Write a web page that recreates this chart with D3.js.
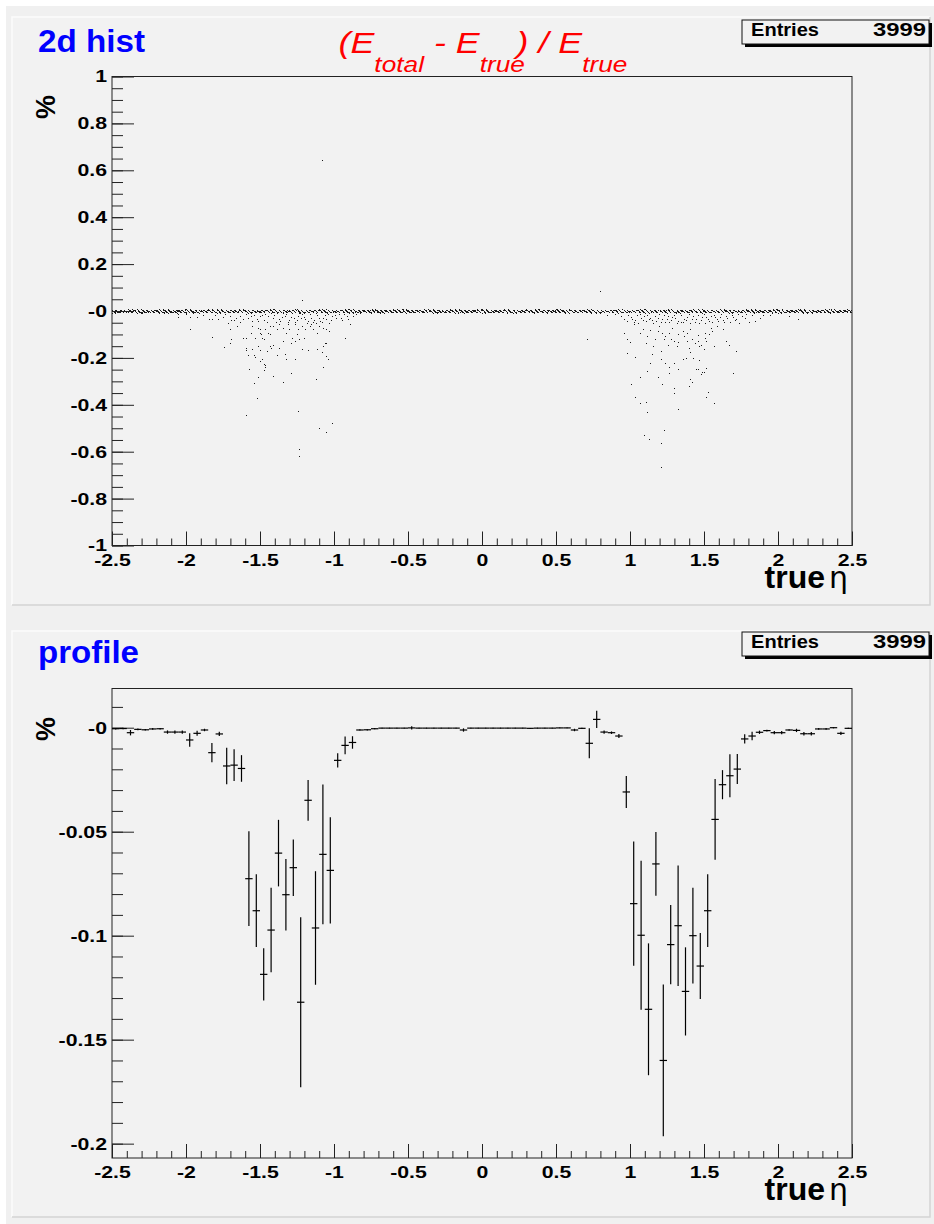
<!DOCTYPE html>
<html>
<head>
<meta charset="utf-8">
<script src="https://cdn.jsdelivr.net/npm/d3@7"></script>
<style>
  body { margin: 0; background: #fff; }
  svg { display: block; }
  text { font-family: "Liberation Sans", Arial, Helvetica, sans-serif; }
</style>
</head>
<body>
<script>
// ---- data ----
const entries = 3999;

// x axis (true eta)
const xTickValues = [-2.5, -2, -1.5, -1, -0.5, 0, 0.5, 1, 1.5, 2, 2.5];
const xTickLabels = ['-2.5', '-2', '-1.5', '-1', '-0.5', '0', '0.5', '1', '1.5', '2', '2.5'];

// y axis of the 2d hist
const histYTicks = [1, 0.8, 0.6, 0.4, 0.2, 0, -0.2, -0.4, -0.6, -0.8, -1];
const histYLabels = ['1', '0.8', '0.6', '0.4', '0.2', '-0', '-0.2', '-0.4', '-0.6', '-0.8', '-1'];

// y axis of the profile
const profYTicks = [0, -0.05, -0.1, -0.15, -0.2];
const profYLabels = ['-0', '-0.05', '-0.1', '-0.15', '-0.2'];

// profile: 100 bins of 0.05 in eta, from -2.5 to 2.5
const profileMean = [
  -0.0005, -0.0004, -0.0024, -0.0008, -0.0010, -0.0006, -0.0005, -0.0021, -0.0021, -0.0021,
  -0.0059, -0.0027, -0.0011, -0.0120, -0.0030, -0.0184, -0.0180, -0.0196, -0.0726, -0.0880,
  -0.1186, -0.0973, -0.0603, -0.0803, -0.0673, -0.1320, -0.0349, -0.0963, -0.0609, -0.0686,
  -0.0157, -0.0085, -0.0071, -0.0011, -0.0010, -0.0005, -0.0002, -0.0002, -0.0002, -0.0002,
  -0.0001, -0.0002, -0.0002, -0.0002, -0.0002, -0.0002, -0.0002, -0.0011, -0.0002, -0.0002,
  -0.0002, -0.0002, -0.0002, -0.0002, -0.0002, -0.0002, -0.0003, -0.0002, -0.0002, -0.0002,
  -0.0001, -0.0001, -0.0011, -0.0003, -0.0075, 0.0040, -0.0021, -0.0024, -0.0040, -0.0309,
  -0.0846, -0.0998, -0.1354, -0.0655, -0.1600, -0.1043, -0.0952, -0.1268, -0.1000, -0.1146,
  -0.0880, -0.0441, -0.0274, -0.0231, -0.0199, -0.0054, -0.0040, -0.0022, -0.0014, -0.0024,
  -0.0024, -0.0011, -0.0013, -0.0029, -0.0029, -0.0006, -0.0006, 0.0000, -0.0027, -0.0003
];
const profileErr = [
  0.0004, 0.0004, 0.0013, 0.0004, 0.0004, 0.0004, 0.0004, 0.0008, 0.0008, 0.0008,
  0.0032, 0.0012, 0.0006, 0.0046, 0.0010, 0.0088, 0.0076, 0.0064, 0.0228, 0.0175,
  0.0126, 0.0203, 0.0160, 0.0172, 0.0136, 0.0409, 0.0098, 0.0273, 0.0336, 0.0256,
  0.0034, 0.0043, 0.0030, 0.0003, 0.0003, 0.0003, 0.0002, 0.0002, 0.0002, 0.0002,
  0.0008, 0.0002, 0.0002, 0.0002, 0.0002, 0.0002, 0.0002, 0.0008, 0.0002, 0.0002,
  0.0002, 0.0002, 0.0002, 0.0002, 0.0002, 0.0002, 0.0002, 0.0002, 0.0002, 0.0002,
  0.0002, 0.0002, 0.0006, 0.0003, 0.0072, 0.0042, 0.0008, 0.0006, 0.0010, 0.0077,
  0.0299, 0.0358, 0.0317, 0.0153, 0.0365, 0.0190, 0.0290, 0.0212, 0.0230, 0.0159,
  0.0175, 0.0194, 0.0070, 0.0103, 0.0072, 0.0022, 0.0020, 0.0008, 0.0004, 0.0008,
  0.0008, 0.0004, 0.0008, 0.0008, 0.0008, 0.0004, 0.0004, 0.0003, 0.0008, 0.0003
];

// 2d hist: dots drawn in the core cell around zero, per 0.05 eta bin
const bandLow = -0.009, bandHigh = 0.005;
const bandCounts = [
  20, 21, 20, 20, 21, 20, 20, 21, 20, 20,
  20, 19, 18, 17, 16, 15, 14, 13, 12, 12,
  12, 12, 12, 12, 12, 12, 12, 13, 13, 14,
  15, 17, 18, 19, 20, 20, 20, 20, 20, 20,
  20, 20, 20, 20, 20, 20, 20, 20, 20, 20,
  20, 20, 20, 20, 20, 20, 20, 20, 20, 20,
  20, 20, 19, 18, 17, 15, 14, 13, 13, 12,
  12, 12, 12, 12, 12, 12, 12, 12, 12, 12,
  13, 13, 14, 15, 16, 18, 19, 20, 20, 21,
  20, 20, 21, 20, 20, 21, 20, 20, 20, 20
];

// 2d hist: the scattered entries away from zero [eta, value]
const scatterPoints = [
  // left tail, near zero
  [-2.06, -0.010], [-2.05, -0.028], [-1.97, -0.027], [-1.92, -0.028], [-1.84, -0.035], [-1.82, -0.035],
  [-1.78, -0.035], [-1.75, -0.028], [-1.71, -0.052], [-1.69, -0.041], [-1.67, -0.041], [-1.65, -0.064],
  [-1.63, -0.024], [-1.63, -0.050], [-1.59, -0.014], [-1.56, -0.024], [-1.55, -0.045], [-1.52, -0.035],
  [-1.50, -0.024], [-1.48, -0.021], [-1.46, -0.014], [-1.44, -0.024], [-1.42, -0.010], [-1.39, -0.050],
  [-1.38, -0.010], [-1.37, -0.035], [-1.34, -0.010], [-1.33, -0.024], [-1.31, -0.050], [-1.29, -0.027],
  [-1.28, -0.010], [-1.26, -0.050], [-1.24, -0.024], [-1.22, -0.031], [-1.21, -0.017], [-1.19, -0.038],
  [-1.17, -0.045], [-1.16, -0.017], [-1.14, -0.050], [-1.12, -0.010], [-1.10, -0.031], [-1.08, -0.050],
  [-1.06, -0.021], [-1.05, -0.038], [-1.03, -0.052], [-1.01, -0.024], [-0.98, -0.031], [-0.96, -0.017],
  [-0.94, -0.041], [-0.91, -0.024], [-0.89, -0.059], [-0.87, -0.024], [-2.05, -0.017],
  [-2.00, -0.015], [-1.95, -0.012], [-1.88, -0.020], [-1.80, -0.018], [-1.73, -0.014], [-1.70, -0.022],
  [-1.66, -0.030], [-1.61, -0.036], [-1.58, -0.030], [-1.54, -0.018], [-1.51, -0.045], [-1.47, -0.040],
  [-1.45, -0.048], [-1.41, -0.032], [-1.40, -0.018], [-1.36, -0.045], [-1.35, -0.028], [-1.32, -0.016],
  [-1.30, -0.040], [-1.27, -0.033], [-1.25, -0.042], [-1.23, -0.012], [-1.20, -0.028], [-1.18, -0.052],
  [-1.15, -0.030], [-1.13, -0.040], [-1.11, -0.020], [-1.09, -0.045], [-1.07, -0.030], [-1.04, -0.015],
  [-1.02, -0.040], [-0.99, -0.020], [-0.95, -0.030], [-0.93, -0.015], [-0.90, -0.035], [-0.85, -0.015],
  [-0.82, -0.012],
  // left tail, deeper
  [-1.97, -0.078], [-1.82, -0.113], [-1.70, -0.081], [-1.69, -0.123], [-1.70, -0.140], [-1.74, -0.156],
  [-1.61, -0.116], [-1.59, -0.116], [-1.56, -0.095], [-1.55, -0.067], [-1.53, -0.116], [-1.51, -0.074],
  [-1.50, -0.095], [-1.50, -0.081], [-1.49, -0.102], [-1.48, -0.116], [-1.47, -0.123], [-1.46, -0.081],
  [-1.44, -0.095], [-1.43, -0.064], [-1.43, -0.102], [-1.41, -0.067], [-1.38, -0.081], [-1.37, -0.059],
  [-1.34, -0.074], [-1.34, -0.130], [-1.32, -0.095], [-1.31, -0.059], [-1.30, -0.081], [-1.28, -0.116],
  [-1.26, -0.059], [-1.26, -0.130], [-1.25, -0.102], [-1.24, -0.081], [-1.23, -0.123], [-1.21, -0.067],
  [-1.20, -0.116], [-1.19, -0.081], [-1.16, -0.067], [-1.15, -0.059], [-1.14, -0.081], [-1.12, -0.052],
  [-1.11, -0.095], [-1.10, -0.067], [-1.07, -0.074], [-1.05, -0.081], [-1.05, -0.137], [-1.03, -0.088],
  [-0.92, -0.116],
  [-1.59, -0.159], [-1.59, -0.169], [-1.58, -0.191], [-1.55, -0.166], [-1.54, -0.191], [-1.53, -0.197],
  [-1.51, -0.152], [-1.50, -0.169], [-1.50, -0.215], [-1.48, -0.208], [-1.47, -0.230], [-1.46, -0.234],
  [-1.46, -0.240], [-1.45, -0.173], [-1.43, -0.152], [-1.42, -0.159], [-1.41, -0.149], [-1.38, -0.191],
  [-1.37, -0.159], [-1.33, -0.187], [-1.32, -0.208], [-1.29, -0.137], [-1.26, -0.205], [-1.21, -0.166],
  [-1.17, -0.169], [-1.11, -0.166], [-1.08, -0.177], [-1.07, -0.152], [-1.06, -0.137], [-1.05, -0.194],
  [-1.04, -0.205], [-1.07, -0.240],
  [-1.57, -0.248], [-1.47, -0.254], [-1.51, -0.283], [-1.54, -0.308], [-1.41, -0.279], [-1.34, -0.305],
  [-1.29, -0.265], [-1.12, -0.293], [-1.52, -0.374], [-1.59, -0.447], [-1.24, -0.430], [-1.01, -0.478],
  [-1.10, -0.500], [-1.05, -0.517], [-1.23, -0.591], [-1.23, -0.620],
  [-1.21, 0.044], [-1.08, 0.643],
  // right tail, near zero
  [0.85, -0.021], [0.96, -0.035], [0.98, -0.045], [1.01, -0.027], [1.03, -0.050], [1.05, -0.021],
  [1.06, -0.052], [1.08, -0.031], [1.10, -0.024], [1.11, -0.045], [1.13, -0.035], [1.15, -0.041],
  [1.16, -0.052], [1.17, -0.024], [1.19, -0.031], [1.21, -0.050], [1.23, -0.021], [1.25, -0.038],
  [1.27, -0.050], [1.29, -0.027], [1.30, -0.021], [1.32, -0.052], [1.34, -0.010], [1.36, -0.050],
  [1.37, -0.035], [1.39, -0.027], [1.41, -0.052], [1.43, -0.024], [1.45, -0.035], [1.47, -0.052],
  [1.49, -0.027], [1.51, -0.052], [1.53, -0.035], [1.55, -0.024], [1.56, -0.050], [1.58, -0.027],
  [1.60, -0.045], [1.61, -0.027], [1.63, -0.041], [1.65, -0.024], [1.68, -0.050], [1.70, -0.027],
  [1.72, -0.035], [1.74, -0.052], [1.78, -0.031], [1.81, -0.050], [1.85, -0.045], [1.90, -0.020],
  [1.95, -0.020], [2.08, -0.025], [2.14, -0.035],
  [0.90, -0.015], [0.94, -0.025], [0.99, -0.018], [1.02, -0.035], [1.04, -0.040], [1.07, -0.015],
  [1.09, -0.042], [1.12, -0.018], [1.14, -0.030], [1.18, -0.045], [1.20, -0.015], [1.22, -0.035],
  [1.24, -0.048], [1.26, -0.022], [1.28, -0.040], [1.31, -0.030], [1.33, -0.045], [1.35, -0.020],
  [1.38, -0.042], [1.40, -0.015], [1.42, -0.038], [1.44, -0.048], [1.46, -0.020], [1.48, -0.040],
  [1.50, -0.015], [1.52, -0.028], [1.54, -0.045], [1.57, -0.018], [1.59, -0.035], [1.62, -0.015],
  [1.64, -0.048], [1.66, -0.030], [1.69, -0.018], [1.71, -0.040], [1.73, -0.015], [1.76, -0.025],
  [1.79, -0.015], [1.83, -0.020], [1.88, -0.030],
  // right tail, deeper
  [0.96, -0.095], [0.98, -0.120], [1.00, -0.135], [1.03, -0.059], [1.07, -0.095], [1.09, -0.081],
  [1.11, -0.137], [1.12, -0.109], [1.14, -0.084], [1.16, -0.152], [1.17, -0.120], [1.19, -0.088],
  [1.20, -0.067], [1.22, -0.095], [1.23, -0.123], [1.24, -0.109], [1.26, -0.145], [1.27, -0.095],
  [1.28, -0.120], [1.29, -0.074], [1.30, -0.130], [1.32, -0.152], [1.33, -0.102], [1.33, -0.135],
  [1.35, -0.050], [1.36, -0.088], [1.37, -0.109], [1.39, -0.095], [1.39, -0.130], [1.40, -0.159],
  [1.41, -0.177], [1.41, -0.081], [1.42, -0.123], [1.44, -0.137], [1.46, -0.130], [1.46, -0.106],
  [1.47, -0.152], [1.48, -0.145], [1.50, -0.166], [1.51, -0.116], [1.51, -0.095], [1.52, -0.130],
  [1.54, -0.102], [1.55, -0.074], [1.56, -0.088], [1.57, -0.152], [1.59, -0.067], [1.63, -0.081],
  [1.65, -0.130], [1.67, -0.145], [1.72, -0.173], [1.21, -0.173], [1.15, -0.187], [0.98, -0.183],
  [1.04, -0.197], [1.14, -0.225], [1.12, -0.258], [1.07, -0.282], [1.01, -0.315], [1.04, -0.367],
  [1.07, -0.395], [1.11, -0.390], [1.12, -0.432], [1.19, -0.282], [1.21, -0.208], [1.22, -0.315],
  [1.24, -0.223], [1.27, -0.240], [1.27, -0.268], [1.30, -0.223], [1.30, -0.329], [1.30, -0.350],
  [1.33, -0.248], [1.33, -0.421], [1.36, -0.208], [1.38, -0.201], [1.40, -0.322], [1.41, -0.291],
  [1.42, -0.305], [1.43, -0.201], [1.45, -0.251], [1.46, -0.248], [1.47, -0.211], [1.48, -0.272],
  [1.49, -0.262], [1.50, -0.262], [1.52, -0.367], [1.53, -0.347], [1.52, -0.244], [1.57, -0.395],
  [1.70, -0.268], [1.10, -0.532], [1.13, -0.549], [1.21, -0.563], [1.23, -0.509], [1.21, -0.669],
  [0.80, 0.082], [0.71, -0.123]
];

// ---- layout ----
const width = 934;
const height = 1224;
const binWidth = 0.05;
const labelStretch = 1.25;   // ROOT's bold Helvetica renders wider than Liberation Sans

const svg = d3.select('body')
    .append('svg')
    .attr('width', width)
    .attr('height', height);

svg.append('rect').attr('width', width).attr('height', height).attr('fill', '#ffffff');
svg.append('rect').attr('x', 6).attr('y', 6).attr('width', 928).attr('height', 1218).attr('fill', '#f0f0f0');

// widen a text to the given factor of its natural length
function stretch(sel, factor) {
    sel.each(function() {
        const w = this.getComputedTextLength();
        d3.select(this).attr('textLength', w * factor).attr('lengthAdjust', 'spacingAndGlyphs');
    });
}

// pad with ROOT-like bevel border
function drawPad(x, y, w, h) {
    const g = svg.append('g');
    g.append('rect').attr('x', x).attr('y', y).attr('width', w).attr('height', h).attr('fill', '#f2f2f2');
    g.append('path').attr('d', `M${x},${y + h}V${y}H${x + w}`)
        .attr('fill', 'none').attr('stroke', '#fbfbfb').attr('stroke-width', 1.5);
    g.append('path').attr('d', `M${x + w},${y}V${y + h}H${x}`)
        .attr('fill', 'none').attr('stroke', '#d4d4d4').attr('stroke-width', 1.5);
}
drawPad(12, 17, 918, 588);
drawPad(12, 631, 918, 586);

const x = d3.scaleLinear().domain([-2.5, 2.5]).range([112, 852]);

function styleLabels(g) {
    g.selectAll('text')
        .attr('fill', '#000')
        .style('font-size', '17px')
        .style('font-weight', 'bold')
        .style('font-family', '"Liberation Sans", Arial, sans-serif')
        .call(stretch, labelStretch);
}

function drawXAxis(yPos) {
    const minor = d3.range(-2.5, 2.5001, 0.1).map(v => Math.round(v * 10) / 10);
    svg.append('g')
        .attr('transform', `translate(0,${yPos})`)
        .call(d3.axisBottom(x).tickValues(minor).tickSize(-7).tickFormat(''))
        .call(g => g.select('.domain').remove())
        .call(g => g.selectAll('line').attr('stroke', '#222'));
    svg.append('g')
        .attr('transform', `translate(0,${yPos})`)
        .call(d3.axisBottom(x).tickValues(xTickValues).tickSize(-14).tickPadding(8)
            .tickFormat((d, i) => xTickLabels[i]))
        .call(g => g.select('.domain').remove())
        .call(g => g.selectAll('line').attr('stroke', '#222'))
        .call(styleLabels);
    const t = svg.append('text')
        .attr('x', 848).attr('y', yPos + 42)
        .attr('text-anchor', 'end')
        .style('font-size', '32px');
    t.append('tspan').style('font-weight', 'bold').text('true');
    t.append('tspan').attr('dx', 4).style('font-family', '"DejaVu Sans", sans-serif').style('font-size', '30px').text('η');
}

function drawYAxis(y, majors, labels, minors) {
    svg.append('g')
        .attr('transform', 'translate(112,0)')
        .call(d3.axisLeft(y).tickValues(minors).tickSize(-11).tickFormat(''))
        .call(g => g.select('.domain').remove())
        .call(g => g.selectAll('line').attr('stroke', '#222'));
    svg.append('g')
        .attr('transform', 'translate(112,0)')
        .call(d3.axisLeft(y).tickValues(majors).tickSize(-22).tickPadding(5)
            .tickFormat((d, i) => labels[i]))
        .call(g => g.select('.domain').remove())
        .call(g => g.selectAll('line').attr('stroke', '#222'))
        .call(styleLabels);
}

function drawStatBox(top) {
    svg.append('rect').attr('x', 745).attr('y', top + 3).attr('width', 187).attr('height', 24).attr('fill', '#000');
    svg.append('rect').attr('x', 742).attr('y', top).attr('width', 187).attr('height', 24)
        .attr('fill', '#f2f2f2').attr('stroke', '#111').attr('stroke-width', 1);
    svg.append('text').attr('x', 751).attr('y', top + 16)
        .style('font-size', '18px').style('font-weight', 'bold').text('Entries')
        .attr('textLength', 68).attr('lengthAdjust', 'spacingAndGlyphs');
    svg.append('text').attr('x', 926).attr('y', top + 16).attr('text-anchor', 'end')
        .style('font-size', '18px').style('font-weight', 'bold').text(entries)
        .attr('textLength', 53).attr('lengthAdjust', 'spacingAndGlyphs');
}

function drawPercent(yTop) {
    svg.append('text')
        .attr('transform', `translate(55,${yTop}) rotate(-90)`)
        .attr('text-anchor', 'end')
        .style('font-size', '27px').style('font-weight', 'bold')
        .text('%');
}

// ---- top pad: 2d hist ----
const yHist = d3.scaleLinear().domain([-1, 1]).range([545.5, 76.5]);

svg.append('text').attr('x', 38).attr('y', 52)
    .attr('fill', '#0000ff').style('font-size', '31px').style('font-weight', 'bold')
    .text('2d hist')
    .attr('textLength', 107).attr('lengthAdjust', 'spacingAndGlyphs');

// title with subscripts, widened as a whole to the reference width
const title = svg.append('text')
    .attr('text-anchor', 'middle')
    .attr('fill', '#ff0000')
    .style('font-style', 'italic')
    .style('font-size', '30px');
title.append('tspan').text('(E');
title.append('tspan').attr('dy', 19).style('font-size', '22px').text('total');
title.append('tspan').attr('dy', -19).text(' - E');
title.append('tspan').attr('dy', 19).style('font-size', '22px').text('true');
title.append('tspan').attr('dy', -19).attr('dx', -7).text(') / E');
title.append('tspan').attr('dy', 19).style('font-size', '22px').text('true');
const titleW = title.node().getBBox().width;
title.attr('transform', `translate(483,53) scale(${289 / titleW},1)`);

drawStatBox(20);

// core band of the 2d hist: dots spread over each cell
const bandDots = [];
bandCounts.forEach((n, i) => {
    const lo = -2.5 + i * binWidth;
    for (let k = 0; k < n; k++) {
        const fx = (k * 0.618034 + i * 0.3771) % 1;
        const fy = (k * 0.754878 + i * 0.5693) % 1;
        bandDots.push([lo + fx * binWidth, bandLow + fy * (bandHigh - bandLow)]);
    }
});

svg.append('g')
    .selectAll('rect')
    .data(bandDots.concat(scatterPoints))
    .enter()
    .append('rect')
    .attr('x', d => Math.floor(x(d[0])))
    .attr('y', d => Math.floor(yHist(d[1])))
    .attr('width', 1)
    .attr('height', 1)
    .attr('fill', '#1a1a1a');

drawYAxis(yHist, histYTicks, histYLabels,
    d3.range(-1, 1.0001, 0.05).map(v => Math.round(v * 100) / 100));
drawXAxis(545.5);
svg.append('rect').attr('x', 112).attr('y', 76.5).attr('width', 740).attr('height', 469)
    .attr('fill', 'none').attr('stroke', '#222').attr('stroke-width', 1);
drawPercent(95);

// ---- bottom pad: profile ----
const yProf = d3.scaleLinear().domain([-0.2069, 0.01885]).range([1158, 688.5]);

svg.append('text').attr('x', 38).attr('y', 663)
    .attr('fill', '#0000ff').style('font-size', '31px').style('font-weight', 'bold')
    .text('profile')
    .attr('textLength', 101).attr('lengthAdjust', 'spacingAndGlyphs');

drawStatBox(632);

drawYAxis(yProf, profYTicks, profYLabels,
    d3.range(-0.2, 0.0101, 0.01).map(v => Math.round(v * 100) / 100));
drawXAxis(1158);
svg.append('rect').attr('x', 112).attr('y', 688.5).attr('width', 740).attr('height', 469.5)
    .attr('fill', 'none').attr('stroke', '#222').attr('stroke-width', 1);
drawPercent(717);

const prof = svg.append('g').attr('stroke', '#000').attr('stroke-width', 1.2);
prof.selectAll('line.h')
    .data(profileMean)
    .enter()
    .append('line')
    .attr('class', 'h')
    .attr('x1', (d, i) => x(-2.5 + i * binWidth))
    .attr('x2', (d, i) => x(-2.5 + (i + 1) * binWidth))
    .attr('y1', d => yProf(d))
    .attr('y2', d => yProf(d));
prof.selectAll('line.v')
    .data(profileMean)
    .enter()
    .append('line')
    .attr('class', 'v')
    .attr('x1', (d, i) => x(-2.5 + (i + 0.5) * binWidth))
    .attr('x2', (d, i) => x(-2.5 + (i + 0.5) * binWidth))
    .attr('y1', (d, i) => yProf(d + profileErr[i]))
    .attr('y2', (d, i) => yProf(d - profileErr[i]));
</script>
</body>
</html>
